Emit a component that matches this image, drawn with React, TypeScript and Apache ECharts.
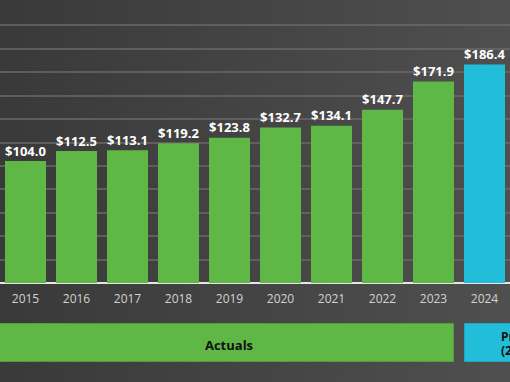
import React, { useEffect, useRef } from "react";
import * as echarts from "echarts";

const years = ["2015", "2016", "2017", "2018", "2019", "2020", "2021", "2022", "2023", "2024"];
const values = [104.0, 112.5, 113.1, 119.2, 123.8, 132.7, 134.1, 147.7, 171.9, 186.4];
const projected = [false, false, false, false, false, false, false, false, false, true];
const actualLabel = "Actuals";
const projectedLabel = "Projected";
const projectedSub = "(2024E)";

const GREEN = "#5fb845";
const BLUE = "#22bdd8";

export default function App() {
  const ref = useRef<HTMLDivElement>(null);
  useEffect(() => {
    if (!ref.current) return;
    const chart = echarts.init(ref.current, undefined, { renderer: "svg" });
    chart.setOption({
      animation: false,
      backgroundColor: "transparent",
      grid: { left: -4, right: 0, top: 25, bottom: 99, containLabel: false },
      xAxis: {
        type: "category",
        data: years,
        axisTick: { show: false },
        axisLine: { show: true, lineStyle: { color: "#e6e6e6", width: 2 } },
        axisLabel: {
          color: "#d2d2d2",
          fontSize: 12,
          fontFamily: "Open Sans",
          margin: 9,
        },
      },
      yAxis: {
        type: "value",
        min: 0,
        max: 220,
        interval: 20,
        axisLabel: { show: false },
        axisLine: { show: false },
        axisTick: { show: false },
        splitLine: { show: true, lineStyle: { color: "#6a6a6a", width: 1.5 } },
      },
      series: [
        {
          type: "bar",
          barWidth: 41,
          data: values.map((v, i) => ({
            value: v,
            itemStyle: { color: projected[i] ? BLUE : GREEN },
          })),
          label: {
            show: true,
            position: "top",
            distance: 4,
            color: "#ffffff",
            fontSize: 13,
            fontWeight: "bold",
            fontFamily: "Open Sans",
            formatter: (p: any) => "$" + Number(p.value).toFixed(1),
          },
        },
      ],
      graphic: [
        {
          type: "rect",
          shape: { x: -2, y: 323.5, width: 455.5, height: 38 },
          style: { fill: GREEN, stroke: "#4e9e3a", lineWidth: 1 },
        },
        {
          type: "text",
          x: 229,
          y: 345,
          style: {
            text: actualLabel,
            fill: "#111111",
            font: "bold 13px 'Open Sans'",
            textAlign: "center",
            textVerticalAlign: "middle",
          },
        },
        {
          type: "rect",
          shape: { x: 464.5, y: 323.5, width: 100, height: 38 },
          style: { fill: BLUE, stroke: "#1fa8c0", lineWidth: 1 },
        },
        {
          type: "text",
          x: 501,
          y: 343,
          style: {
            text: projectedLabel + "\n" + projectedSub,
            fill: "#111111",
            font: "bold 12px 'Open Sans'",
            lineHeight: 14,
            textAlign: "left",
            textVerticalAlign: "middle",
          },
        },
      ],
    });
    return () => chart.dispose();
  }, []);
  return (
    <div
      style={{
        position: "fixed",
        left: 0,
        top: 0,
        width: 510,
        height: 382,
        background: "linear-gradient(to right, #393939, #4f4f4f)",
      }}
    >
      <div ref={ref} style={{ width: 510, height: 382 }} />
    </div>
  );
}
